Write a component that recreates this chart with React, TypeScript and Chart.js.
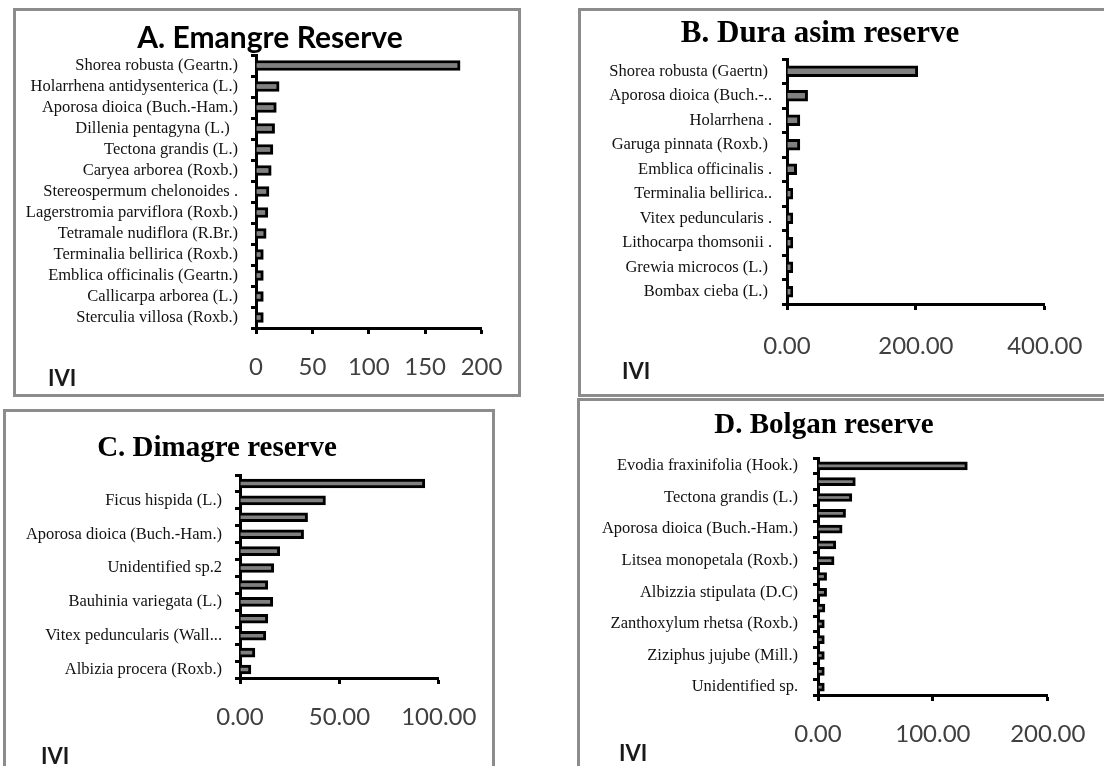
import React, { useEffect, useRef } from "react";
import { Chart, registerables } from "chart.js";

Chart.register(...registerables);

// ---------- Data (top-to-bottom order) ----------
const emangreSpecies = [
  "Shorea robusta (Geartn.)",
  "Holarrhena antidysenterica (L.)",
  "Aporosa dioica (Buch.-Ham.)",
  "Dillenia pentagyna (L.)  ",
  "Tectona grandis (L.)",
  "Caryea arborea (Roxb.)",
  "Stereospermum chelonoides .",
  "Lagerstromia parviflora (Roxb.)",
  "Tetramale nudiflora (R.Br.)",
  "Terminalia bellirica (Roxb.)",
  "Emblica officinalis (Geartn.)",
  "Callicarpa arborea (L.)",
  "Sterculia villosa (Roxb.)",
];
const emangreIVI = [181, 20.5, 18, 16.5, 15, 13.5, 11.5, 10.5, 9, 6.5, 6.5, 6.5, 6.5];
const emangreTicks = [0, 50, 100, 150, 200];

const duraAsimSpecies = [
  "Shorea robusta (Gaertn) ",
  "Aporosa dioica (Buch.-..",
  "Holarrhena .",
  "Garuga pinnata (Roxb.) ",
  "Emblica officinalis .",
  "Terminalia bellirica..",
  "Vitex peduncularis .",
  "Lithocarpa thomsonii .",
  "Grewia microcos (L.) ",
  "Bombax cieba (L.) ",
];
const duraAsimIVI = [203, 32, 20, 20, 15, 9, 9, 9, 9, 9];
const duraAsimTicks = [0, 200, 400];

const dimagreSpecies = [
  "",
  "Ficus hispida (L.)",
  "",
  "Aporosa dioica (Buch.-Ham.)",
  "",
  "Unidentified sp.2",
  "",
  "Bauhinia variegata (L.)",
  "",
  "Vitex peduncularis (Wall...",
  "",
  "Albizia procera (Roxb.)",
];
const dimagreIVI = [93, 43, 34, 32, 20, 17, 14, 16.5, 14, 13, 7.5, 5.5];
const dimagreTicks = [0, 50, 100];

const bolganSpecies = [
  "Evodia fraxinifolia (Hook.)",
  "",
  "Tectona grandis (L.)",
  "",
  "Aporosa dioica (Buch.-Ham.)",
  "",
  "Litsea monopetala (Roxb.)",
  "",
  "Albizzia stipulata (D.C)",
  "",
  "Zanthoxylum rhetsa (Roxb.)",
  "",
  "Ziziphus jujube (Mill.)",
  "",
  "Unidentified sp.",
];
const bolganIVI = [130, 32.5, 29.5, 24, 21, 15.5, 14, 7.5, 7.5, 6, 5.5, 5.5, 5.5, 5.5, 5.5];
const bolganTicks = [0, 100, 200];

// ---------- Layout specs ----------
type Spec = {
  box: { x: number; y: number; w: number; h: number };
  axis: { left: number; right: number; top: number; bottom: number };
  title: string;
  titleFont: { family: string; size: number; weight: string };
  titleC: { x: number; y: number };
  labels: string[];
  values: number[];
  ticks: number[];
  decimals: number;
  labelRight: number;
  tickY: number;
  barThickness: number;
  ivi: { x: number; y: number };
};

const SERIF = "'Liberation Serif', 'Times New Roman', serif";
const SANS = "Lato, 'Open Sans', sans-serif";

const specs: Spec[] = [
  {
    box: { x: 13, y: 8, w: 508, h: 389 },
    axis: { left: 256, right: 483, top: 55, bottom: 328 },
    title: "A. Emangre Reserve",
    titleFont: { family: SANS, size: 30, weight: "bold" },
    titleC: { x: 270, y: 36 },
    labels: emangreSpecies,
    values: emangreIVI,
    ticks: emangreTicks,
    decimals: 0,
    labelRight: 238,
    tickY: 367,
    barThickness: 10,
    ivi: { x: 48, y: 378 },
  },
  {
    box: { x: 578, y: 8, w: 530, h: 389 },
    axis: { left: 787, right: 1045, top: 59, bottom: 304 },
    title: "B. Dura asim reserve",
    titleFont: { family: SERIF, size: 31, weight: "bold" },
    titleC: { x: 820, y: 31 },
    labels: duraAsimSpecies,
    values: duraAsimIVI,
    ticks: duraAsimTicks,
    decimals: 2,
    labelRight: 772,
    tickY: 346,
    barThickness: 11,
    ivi: { x: 622, y: 371 },
  },
  {
    box: { x: 3, y: 409, w: 492, h: 370 },
    axis: { left: 240, right: 440, top: 475, bottom: 678 },
    title: "C. Dimagre reserve",
    titleFont: { family: SERIF, size: 29, weight: "bold" },
    titleC: { x: 217, y: 446 },
    labels: dimagreSpecies,
    values: dimagreIVI,
    ticks: dimagreTicks,
    decimals: 2,
    labelRight: 222,
    tickY: 717,
    barThickness: 9,
    ivi: { x: 41, y: 756 },
  },
  {
    box: { x: 577, y: 398, w: 531, h: 380 },
    axis: { left: 818, right: 1053, top: 458, bottom: 695 },
    title: "D. Bolgan reserve",
    titleFont: { family: SERIF, size: 29, weight: "bold" },
    titleC: { x: 824, y: 423 },
    labels: bolganSpecies,
    values: bolganIVI,
    ticks: bolganTicks,
    decimals: 2,
    labelRight: 798,
    tickY: 734,
    barThickness: 8,
    ivi: { x: 619, y: 753 },
  },
];

const PAGE_W = 1104;
const PAGE_H = 766;

function BarPanel({ spec }: { spec: Spec }) {
  const ref = useRef<HTMLCanvasElement>(null);
  const cw = Math.min(spec.box.w, PAGE_W - spec.box.x);
  const ch = Math.min(spec.box.h, PAGE_H - spec.box.y);

  useEffect(() => {
    const s = spec;
    const padR = s.box.x + cw - s.axis.right;
    const padTop = s.axis.top - s.box.y;
    const yWidth = s.axis.left - s.box.x;
    const xHeight = s.box.y + ch - s.axis.bottom;
    const yTick = 5;
    const xTick = 6;
    const tickSize = 24;
    const xPad = s.tickY - s.axis.bottom - xTick - (tickSize * 1.2) / 2;
    const yPad = s.axis.left - s.labelRight - yTick;
    const max = s.ticks[s.ticks.length - 1];
    const step = s.ticks[1] - s.ticks[0];

    const chart = new Chart(ref.current as HTMLCanvasElement, {
      type: "bar",
      data: {
        labels: s.labels,
        datasets: [
          {
            data: s.values,
            backgroundColor: "#808080",
            borderColor: "#000000",
            borderWidth: 3,
            borderSkipped: "start",
            barThickness: s.barThickness,
          },
        ],
      },
      options: {
        indexAxis: "y",
        responsive: false,
        animation: false,
        devicePixelRatio: 1,
        layout: { padding: { left: 0, right: padR, top: padTop, bottom: 0 } },
        plugins: {
          legend: { display: false },
          tooltip: { enabled: false },
          title: { display: false },
        },
        scales: {
          x: {
            type: "linear",
            min: 0,
            max: max,
            ticks: {
              stepSize: step,
              color: "#404040",
              font: { family: SANS, size: tickSize, lineHeight: 1.2 },
              padding: xPad,
              maxRotation: 0,
              autoSkip: false,
              callback: (v: any) => Number(v).toFixed(s.decimals),
            },
            grid: {
              drawOnChartArea: false,
              drawTicks: true,
              tickLength: xTick,
              tickWidth: 3,
              tickColor: "#000000",
            },
            border: { display: true, color: "#000000", width: 3 },
            afterFit: (sc: any) => {
              sc.height = xHeight;
            },
          },
          y: {
            ticks: {
              autoSkip: false,
              color: "#111111",
              font: { family: SERIF, size: 16.5 },
              padding: yPad,
            },
            grid: {
              drawOnChartArea: false,
              drawTicks: true,
              tickLength: yTick,
              tickWidth: 3,
              tickColor: "#000000",
            },
            border: { display: true, color: "#000000", width: 3 },
            afterFit: (sc: any) => {
              sc.width = yWidth;
            },
          },
        },
      },
    });
    return () => chart.destroy();
  }, [spec, cw, ch]);

  const tLine = Math.round(spec.titleFont.size * 1.2);

  return (
    <>
      <div
        style={{
          position: "absolute",
          left: spec.box.x,
          top: spec.box.y,
          width: spec.box.w,
          height: spec.box.h,
          border: "3px solid #8c8c8c",
          boxSizing: "border-box",
        }}
      />
      <canvas
        ref={ref}
        width={cw}
        height={ch}
        style={{ position: "absolute", left: spec.box.x, top: spec.box.y, width: cw, height: ch }}
      />
      <div
        style={{
          position: "absolute",
          left: spec.titleC.x - 250,
          width: 500,
          top: spec.titleC.y - tLine / 2,
          height: tLine,
          lineHeight: tLine + "px",
          textAlign: "center",
          fontFamily: spec.titleFont.family,
          fontWeight: spec.titleFont.weight as any,
          fontSize: spec.titleFont.size,
          color: "#000000",
          whiteSpace: "nowrap",
        }}
      >
        {spec.title}
      </div>
      <div
        style={{
          position: "absolute",
          left: spec.ivi.x,
          top: spec.ivi.y - 12,
          height: 24,
          lineHeight: "24px",
          fontFamily: SANS,
          fontWeight: "bold",
          fontSize: 22,
          color: "#1a1a1a",
          whiteSpace: "nowrap",
        }}
      >
        IVI
      </div>
    </>
  );
}

export default function App() {
  return (
    <div
      style={{
        position: "absolute",
        left: 0,
        top: 0,
        width: PAGE_W,
        height: PAGE_H,
        overflow: "hidden",
        background: "#ffffff",
      }}
    >
      {specs.map((s, i) => (
        <BarPanel key={i} spec={s} />
      ))}
    </div>
  );
}
